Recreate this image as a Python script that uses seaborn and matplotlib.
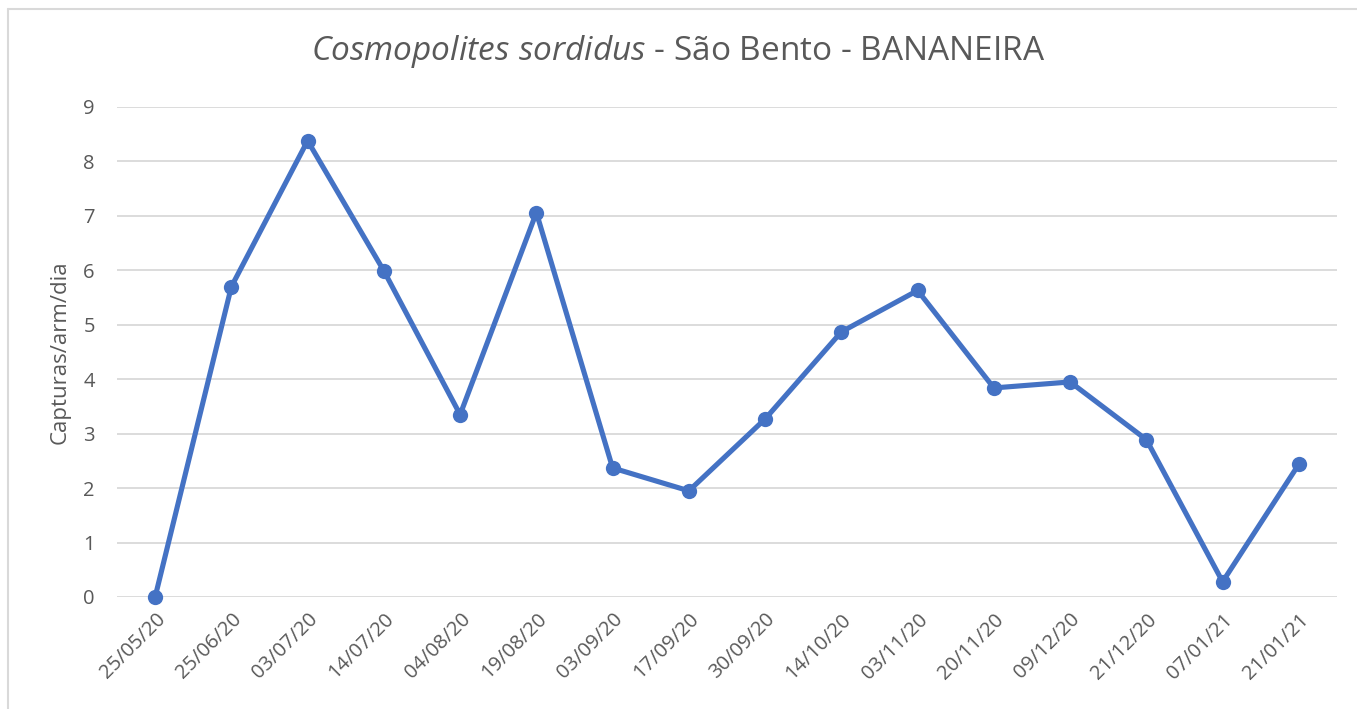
import numpy as np
import pandas as pd
import matplotlib
matplotlib.use("Agg")
import matplotlib.pyplot as plt
import seaborn as sns
from matplotlib.lines import Line2D

# Data
dates = ["25/05/20", "25/06/20", "03/07/20", "14/07/20", "04/08/20", "19/08/20",
         "03/09/20", "17/09/20", "30/09/20", "14/10/20", "03/11/20", "20/11/20",
         "09/12/20", "21/12/20", "07/01/21", "21/01/21"]
capturas = [0.0, 5.70, 8.38, 5.99, 3.35, 7.06, 2.37, 1.95, 3.27, 4.87, 5.63, 3.84,
            3.95, 2.89, 0.28, 2.44]
y_ticks = list(range(0, 10))

sns.set_theme(style="white")
plt.rcParams['font.family'] = ['Open Sans', 'DejaVu Sans']
plt.rcParams['mathtext.fontset'] = 'custom'
plt.rcParams['mathtext.rm'] = 'Open Sans'
plt.rcParams['mathtext.it'] = 'Open Sans:italic'

text_col = "#595959"
line_col = "#4472C4"

df = pd.DataFrame({"idx": np.arange(len(dates)), "val": capturas})

fig = plt.figure(figsize=(13.57, 7.09), dpi=100)
ax = fig.add_axes([117 / 1357, 112 / 709, 1220 / 1357, 490 / 709])

sns.lineplot(data=df, x="idx", y="val", ax=ax, sort=False, color=line_col,
             linewidth=3.7, marker="o", markersize=11, markeredgewidth=0,
             zorder=3)

ax.set_xlim(-0.5, len(dates) - 0.5)
ax.set_ylim(0, 9)
ax.set_yticks(y_ticks)
ax.set_xticks(df["idx"])
ax.set_xticklabels(dates, rotation=45, ha="right", rotation_mode="anchor")
ax.tick_params(axis="both", length=0, labelsize=14.5, colors=text_col)
ax.tick_params(axis="y", pad=16)
ax.tick_params(axis="x", pad=9)
ax.yaxis.grid(True, color="#d9d9d9", linewidth=1.3)
ax.set_axisbelow(True)
for s in ax.spines.values():
    s.set_visible(False)
for ln in ax.lines:
    ln.set_clip_on(False)

ax.set_xlabel("")
ax.set_ylabel("Capturas/arm/dia", fontsize=16, color=text_col)
ax.yaxis.set_label_coords(-0.038, 0.5)

fig.text(0.5, 1 - 52 / 709,
         r"$\mathit{Cosmopolites\ sordidus}$ - São Bento - BANANEIRA",
         ha="center", va="center", fontsize=24, color=text_col)

# chart frame
fig.add_artist(Line2D([7.5 / 1357, 7.5 / 1357], [0, 1 - 8.5 / 709],
                      transform=fig.transFigure, color="#d9d9d9", linewidth=1.5))
fig.add_artist(Line2D([7.5 / 1357, 1], [1 - 8.5 / 709, 1 - 8.5 / 709],
                      transform=fig.transFigure, color="#d9d9d9", linewidth=1.5))

fig.savefig("out.png", dpi=100, facecolor="white")
plt.close(fig)
